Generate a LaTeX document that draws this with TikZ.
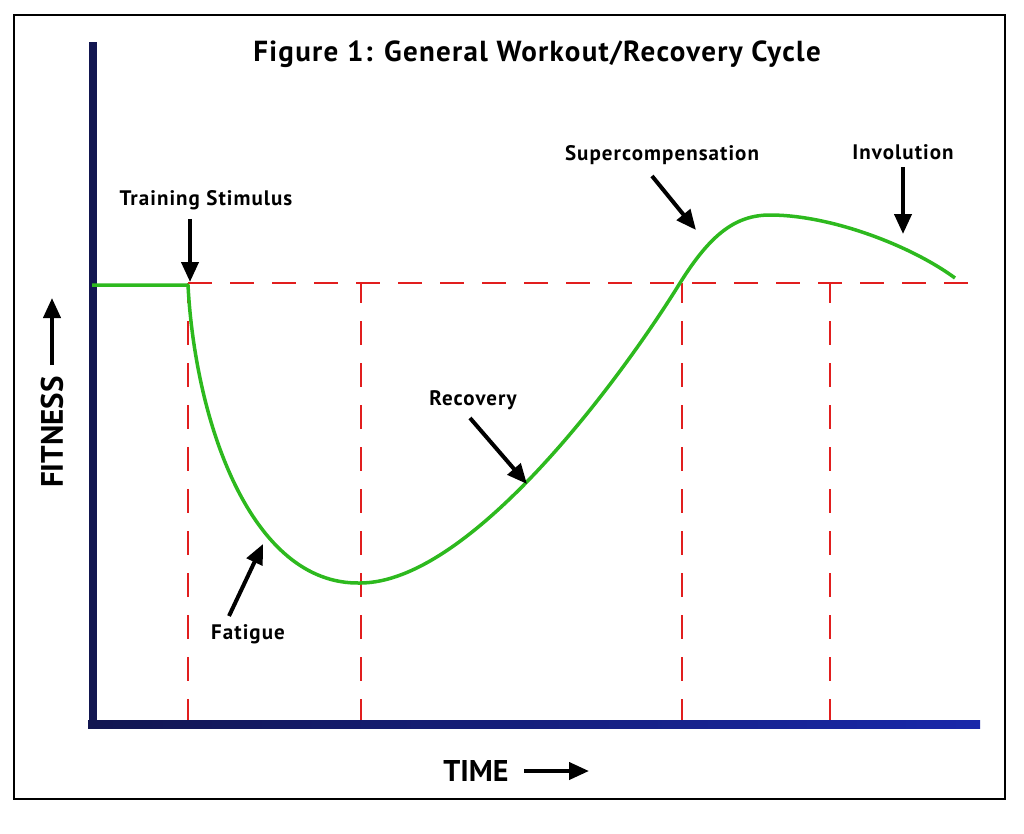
\documentclass[tikz,border=0pt]{standalone}
\usepackage{fontspec}
\setmainfont{PT Sans}
\usetikzlibrary{arrows.meta}
\definecolor{axnavy}{RGB}{18,22,80}
\definecolor{axblue}{RGB}{25,40,170}
\definecolor{curvegreen}{RGB}{45,185,30}
\definecolor{dashred}{RGB}{225,30,30}
\tikzset{
  lbl/.style={font=\bfseries\fontsize{21}{24}\selectfont\addfontfeature{LetterSpace=5}, inner sep=1pt},
  pointer/.style={line width=4pt, -{Triangle[width=17pt,length=20pt]}},
  reddash/.style={dashred, line width=2.2pt, dash pattern=on 24pt off 18pt},
  fitcurve/.style={curvegreen, line width=3.5pt, line join=round},
}
\begin{document}
\begin{tikzpicture}[x=1pt,y=-1pt]
\useasboundingbox (0,0) rectangle (1024,833);
% frame
\draw[line width=2.5pt] (14,15) rectangle (1005,799);
% title
\node (title) at (537,54) {\bfseries\fontsize{29}{32}\selectfont\addfontfeature{LetterSpace=4.5}Figure 1: General Workout/Recovery Cycle};
% dashed reference lines
\coordinate (s0) at (188,283);
\coordinate (hEnd) at (975,283);
\draw[reddash] (s0) -- (hEnd);
\foreach \x in {188,361,682,830}{
  \draw[reddash, dash phase=4pt] (\x,283) -- (\x,722);
}
% axes
\shade[left color=axnavy, right color=axblue] (88,720) rectangle (980,728);
\fill[axnavy] (89,42) rectangle (97,728);
% curve
\draw[fitcurve] (92,285) -- (188,285)
  .. controls (195,420) and (250,585) .. (360,583)
  .. controls (470,583) and (620,380) .. (680,283)
  .. controls (710,235) and (735,215) .. (770,215)
  .. controls (830,215) and (910,245) .. (955,278);
% labels and pointers
\node[lbl] (ts) at (206,200) {Training Stimulus};
\coordinate (tsTip) at (190,282);
\draw[pointer] (ts.south -| tsTip) ++(0,8) -- (tsTip);
\node[lbl] (sc) at (662,155) {Supercompensation};
\coordinate (scTail) at (652,176);
\coordinate (scTip) at (696,230);
\draw[pointer] (scTail) -- (scTip);
\node[lbl] (inv) at (903,152) {Involution};
\coordinate (invTail) at (903,167);
\coordinate (invTip) at (903,234);
\draw[pointer] (invTail) -- (invTip);
\node[lbl] (rec) at (473,400) {Recovery};
\coordinate (recTail) at (470,418);
\coordinate (recTip) at (527,484);
\draw[pointer] (recTail) -- (recTip);
\node[lbl] (fat) at (248,634) {Fatigue};
\coordinate (fatTail) at (229,616);
\coordinate (fatTip) at (263,544);
\draw[pointer] (fatTail) -- (fatTip);
% axis titles
\node[rotate=90, font=\bfseries\fontsize{31}{34}\selectfont, inner sep=0pt] (fit) at (52,432) {FITNESS};
\coordinate (fitTip) at (52,298);
\draw[line width=4pt, -{Triangle[width=17pt,length=20pt]}] (52,365) -- (fitTip);
\node[font=\bfseries\fontsize{30}{34}\selectfont, inner sep=0pt] (time) at (476,771) {TIME};
\coordinate (timeTip) at (589,771);
\draw[line width=4pt, -{Triangle[width=17pt,length=20pt]}] (524,771) -- (timeTip);
\end{tikzpicture}
\end{document}
